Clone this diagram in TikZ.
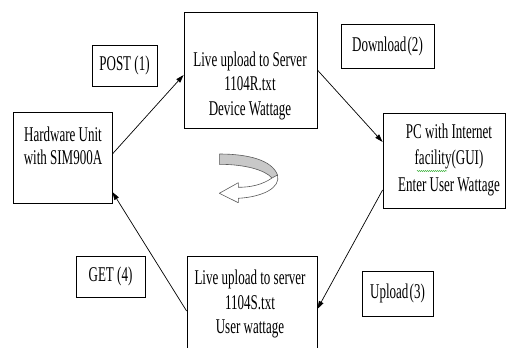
\documentclass[tikz,border=0pt]{standalone}
\usepackage{fontspec}
\setmainfont{Liberation Serif}[FakeStretch=0.62]
\usetikzlibrary{arrows.meta,decorations.pathmorphing}
\definecolor{ribbongray}{RGB}{200,200,200}
\definecolor{ribbonline}{RGB}{90,90,90}
\begin{document}
\begin{tikzpicture}[x=1pt,y=-1pt,
  box/.style={draw, line width=0.8pt, inner sep=0pt},
  txt/.style={font=\fontsize{21}{24.5}\selectfont, align=center, inner sep=0pt},
  lbl/.style={draw, line width=0.8pt, font=\fontsize{21}{22}\selectfont, inner sep=0pt},
  conn/.style={line width=0.7pt, -{Triangle[length=8pt,width=5pt]}},
  ribbon/.style={draw=ribbonline, line width=0.6pt, line join=round}]
\useasboundingbox (0,0) rectangle (506,348);
\clip (0,0) rectangle (506,348);

% main boxes
\node[box, minimum width=133, minimum height=116] (srv) at (250.5,70) {};
\node[txt] (srvtxt) at (250,85.5) {Live upload to Server\\1104R.txt\\Device Wattage};

\node[box, minimum width=99, minimum height=91] (hw) at (62.5,157.5) {};
\node[txt, font=\fontsize{21}{22.5}\selectfont] (hwtxt) at (63,146) {Hardware Unit\\with SIM900A};

\node[box, minimum width=122, minimum height=95] (pc) at (444,160.5) {};
\node[txt, font=\fontsize{21}{26.5}\selectfont] (pctxt) at (449,159.5) {PC with Internet\\facility(GUI)\\Enter User Wattage};

\node[box, minimum width=130, minimum height=110] (usr) at (252,311) {};
\node[txt] (usrtxt) at (250,304) {Live upload to server\\1104S.txt\\User wattage};

% label boxes
\node[lbl, minimum width=65, minimum height=41] (post) at (124.5,65.5) {POST (1)};
\node[lbl, minimum width=93, minimum height=44] (dl) at (387.5,46) {Download\hspace{-2pt} (2)};
\node[lbl, minimum width=69, minimum height=41] (get) at (110.5,276.5) {GET (4)\hspace{10pt}};
\node[lbl, minimum width=71, minimum height=45] (up) at (397.5,293.5) {Upload\hspace{-2pt} (3)};

% connectors
\draw[conn] ([yshift=3.5pt]hw.east) -- ([yshift=-5pt]srv.west);
\draw[conn] (srv.east) -- ([yshift=18.5pt]pc.west);
\draw[conn] ([yshift=-29.5pt]pc.west) -- ([yshift=2pt]usr.east);
\draw[conn] (usr.west) -- ([yshift=-34.5pt]hw.east);

% spell-check underline
\draw[green!60!black, line width=0.4pt, decorate,
      decoration={snake, amplitude=0.5pt, segment length=2pt}] (417,171) -- (447,171);

% curved (twisted ribbon) arrow
\fill[ribbongray] (219.3,154) .. controls (248,154) and (272,160) .. (277.5,175)
   -- (272,178) .. controls (265,170) and (245,164.3) .. (219.3,164.3) -- cycle;
\draw[ribbon] (219.3,154) .. controls (248,154) and (272,160) .. (277.5,175);
\draw[ribbon] (219.3,154) -- (219.3,164.3) .. controls (245,164.3) and (265,170) .. (272,178);
\draw[ribbon, fill=white] (272,178) .. controls (262,185) and (250,187.3) .. (238.3,187.3)
   -- (238.3,182.7) -- (219.3,193.3) -- (238.3,202.7) -- (238.3,198.3)
   .. controls (262,197) and (281,188) .. (277.5,175) -- cycle;
\end{tikzpicture}
\end{document}
